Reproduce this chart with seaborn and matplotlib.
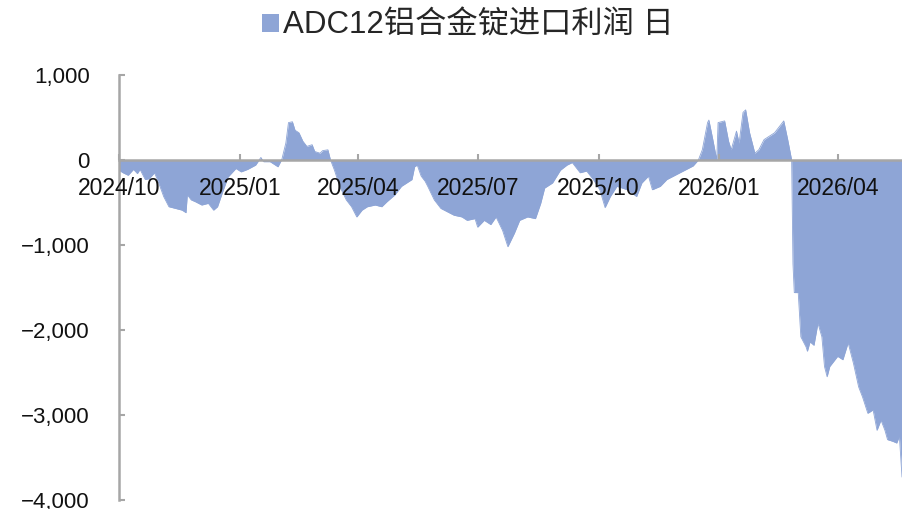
import matplotlib
matplotlib.use("Agg")
import matplotlib.pyplot as plt
import matplotlib.dates as mdates
from matplotlib.ticker import FuncFormatter, MultipleLocator
import pandas as pd
import seaborn as sns

# ADC12 import profit
dates = [
    "2024-10-01", "2024-10-04", "2024-10-08", "2024-10-12", "2024-10-15", "2024-10-17",
    "2024-10-21", "2024-10-24", "2024-10-28", "2024-10-31", "2024-11-04", "2024-11-08",
    "2024-11-13", "2024-11-18", "2024-11-21", "2024-11-22", "2024-11-25", "2024-11-28",
    "2024-12-03", "2024-12-08", "2024-12-12", "2024-12-15", "2024-12-19", "2024-12-23",
    "2024-12-29", "2025-01-02", "2025-01-07", "2025-01-13", "2025-01-17", "2025-01-19",
    "2025-01-24", "2025-01-30", "2025-02-02", "2025-02-05", "2025-02-07", "2025-02-10",
    "2025-02-12", "2025-02-15", "2025-02-18", "2025-02-21", "2025-02-25", "2025-02-27",
    "2025-03-03", "2025-03-05", "2025-03-09", "2025-03-11", "2025-03-14", "2025-03-18",
    "2025-03-23", "2025-03-27", "2025-03-31", "2025-04-04", "2025-04-08", "2025-04-14",
    "2025-04-19", "2025-04-23", "2025-04-29", "2025-05-04", "2025-05-08", "2025-05-12",
    "2025-05-14", "2025-05-16", "2025-05-19", "2025-05-22", "2025-05-24", "2025-05-29",
    "2025-06-03", "2025-06-08", "2025-06-13", "2025-06-19", "2025-06-23", "2025-06-29",
    "2025-07-01", "2025-07-06", "2025-07-11", "2025-07-15", "2025-07-20", "2025-07-24",
    "2025-07-29", "2025-08-02", "2025-08-08", "2025-08-14", "2025-08-18", "2025-08-21",
    "2025-08-27", "2025-09-02", "2025-09-07", "2025-09-11", "2025-09-15", "2025-09-17",
    "2025-09-22", "2025-09-27", "2025-10-02", "2025-10-06", "2025-10-10", "2025-10-15",
    "2025-10-23", "2025-10-30", "2025-11-03", "2025-11-08", "2025-11-11", "2025-11-17",
    "2025-11-22", "2025-11-27", "2025-12-02", "2025-12-07", "2025-12-12", "2025-12-16",
    "2025-12-19", "2025-12-23", "2025-12-24", "2025-12-27", "2025-12-30", "2025-12-31",
    "2026-01-05", "2026-01-08", "2026-01-10", "2026-01-14", "2026-01-16", "2026-01-19",
    "2026-01-21", "2026-01-24", "2026-01-28", "2026-01-31", "2026-02-04", "2026-02-12",
    "2026-02-19", "2026-02-22", "2026-02-25", "2026-02-26", "2026-02-27", "2026-03-02",
    "2026-03-04", "2026-03-08", "2026-03-09", "2026-03-11", "2026-03-14", "2026-03-17",
    "2026-03-20", "2026-03-22", "2026-03-24", "2026-03-26", "2026-04-01", "2026-04-05",
    "2026-04-09", "2026-04-13", "2026-04-17", "2026-04-20", "2026-04-24", "2026-04-28",
    "2026-05-01", "2026-05-04", "2026-05-07", "2026-05-09", "2026-05-13", "2026-05-16",
    "2026-05-18", "2026-05-20",
]
profit = [
    -120, -150, -180, -110, -160, -110,
    -230, -220, -150, -260, -430, -550,
    -570, -590, -620, -410, -470, -490,
    -530, -510, -590, -550, -370, -200,
    -100, -140, -110, -60, 30, -20,
    -20, -80, 10, 200, 440, 450,
    350, 320, 220, 160, 180, 100,
    80, 110, 120, 0, -120, -310,
    -470, -550, -670, -590, -550, -530,
    -550, -490, -410, -310, -270, -230,
    -80, -60, -190, -250, -310, -470,
    -570, -610, -650, -670, -710, -690,
    -790, -710, -760, -670, -830, -1020,
    -860, -710, -670, -690, -510, -330,
    -270, -120, -60, -30, -110, -150,
    -130, -230, -350, -560, -430, -310,
    -350, -430, -270, -190, -350, -310,
    -230, -190, -150, -110, -70, 0,
    120, 440, 470, 240, 0, 440,
    460, 220, 120, 340, 200, 560,
    590, 320, 80, 120, 240, 320,
    460, 240, 0, -1220, -1560, -1560,
    -2080, -2200, -2250, -2140, -2180, -1920,
    -2080, -2430, -2550, -2430, -2310, -2350,
    -2150, -2390, -2670, -2790, -2980, -2940,
    -3180, -3060, -3180, -3290, -3310, -3330,
    -3250, -3730,
]
series_name = "ADC12铝合金锭进口利润 日"

FILL = "#8EA5D6"
GREY = "#A6A6A6"

sns.set_theme(style="white")
plt.rcParams["font.family"] = ["Liberation Sans", "Noto Sans CJK SC", "DejaVu Sans"]
plt.rcParams["axes.unicode_minus"] = True

df = pd.DataFrame({"date": pd.to_datetime(dates), "profit": profit})

fig = plt.figure(figsize=(9.02, 5.09), dpi=100)
ax = fig.add_axes([119 / 902, 9 / 509, 783 / 902, 425 / 509])

sns.lineplot(data=df, x="date", y="profit", ax=ax, color=FILL, linewidth=0.6, zorder=1)
ax.fill_between(df["date"], df["profit"], 0, color=FILL, linewidth=0, label=series_name, zorder=1)

ax.set_xlim(pd.Timestamp("2024-10-01"), pd.Timestamp("2026-05-20"))
ax.set_ylim(-4000, 1000)
ax.set_xlabel("")
ax.set_ylabel("")
ax.set_axisbelow(False)  # tick labels sit on top of the area

# axes look
for s in ["top", "right"]:
    ax.spines[s].set_visible(False)
ax.spines["left"].set_color(GREY)
ax.spines["left"].set_linewidth(1.8)
ax.spines["bottom"].set_position(("data", 0))
ax.spines["bottom"].set_color(GREY)
ax.spines["bottom"].set_linewidth(1.8)

ax.yaxis.set_major_locator(MultipleLocator(1000))
ax.yaxis.set_major_formatter(FuncFormatter(lambda v, p: f"{v:,.0f}".replace("-", "\u2212")))
ax.xaxis.set_major_locator(mdates.MonthLocator(bymonth=[1, 4, 7, 10]))
ax.xaxis.set_major_formatter(mdates.DateFormatter("%Y/%m"))

ax.tick_params(axis="y", direction="in", length=4.5, width=1.5, color=GREY,
               labelsize=16, labelcolor="#111111", pad=21, left=True)
ax.tick_params(axis="x", direction="in", length=4.5, width=1.5, color=GREY,
               labelsize=16.5, labelcolor="#111111", pad=12, bottom=True)
ax.grid(False)

ax.legend(loc="center", bbox_to_anchor=(468 / 902, 1 - 26 / 509), bbox_transform=fig.transFigure,
          frameon=False, fontsize=22.5, handlelength=0.55, handleheight=0.55, handletextpad=0.12)

fig.savefig("out.png", dpi=100)
